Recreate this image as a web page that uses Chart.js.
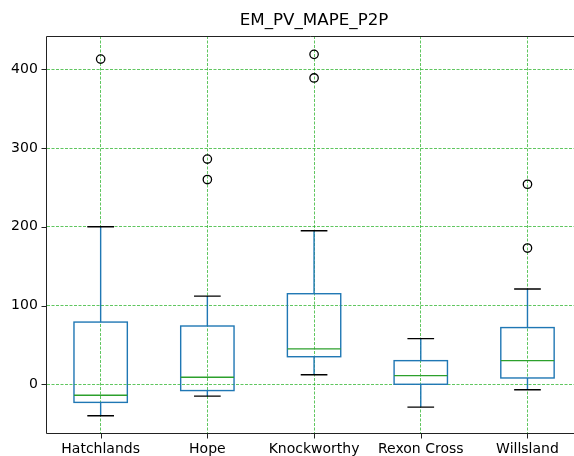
<!DOCTYPE html>
<html>
<head>
<meta charset="utf-8">
<script src="https://cdn.jsdelivr.net/npm/chart.js@4/dist/chart.umd.min.js"></script>
<style>
  html, body { margin: 0; padding: 0; background: #fff; overflow: hidden; }
  #wrap { width: 574px; height: 456px; position: relative; }
</style>
</head>
<body>
<div id="wrap"><canvas id="chart"></canvas></div>
<script>
// valeurs
const titre = 'EM_PV_MAPE_P2P';
const categories = ['Hatchlands', 'Hope', 'Knockworthy', 'Rexon Cross', 'Willsland'];
const moustacheBas = [-40, -15, 12, -29, -7];
const q1 = [-23, -8, 35, 0, 8];
const mediane = [-14, 9, 45, 11, 30];
const q3 = [79, 74, 115, 30, 72];
const moustacheHaut = [200, 112, 195, 58, 121];
const aberrants = [[413], [286, 260], [419, 389], [], [254, 173]];
const yTicks = [0, 100, 200, 300, 400];

const pointsAberrants = [];
aberrants.forEach((liste, i) => {
    liste.forEach(v => pointsAberrants.push({ x: i + 1, y: v }));
});

const police = "'DejaVu Sans', sans-serif";

// dessine les boites, moustaches, medianes, titre, cadre et graduations
const boitesPlugin = {
    id: 'boites',
    beforeDatasetsDraw(chart) {
        const ctx = chart.ctx;
        const xs = chart.scales.x;
        const ys = chart.scales.y;
        ctx.save();
        categories.forEach((c, i) => {
            const pos = i + 1;
            const xc = xs.getPixelForValue(pos);
            const xg = xs.getPixelForValue(pos - 0.25);
            const xd = xs.getPixelForValue(pos + 0.25);
            const cg = xs.getPixelForValue(pos - 0.125);
            const cd = xs.getPixelForValue(pos + 0.125);
            const yq1 = ys.getPixelForValue(q1[i]);
            const yq3 = ys.getPixelForValue(q3[i]);
            const ym = ys.getPixelForValue(mediane[i]);
            const yb = ys.getPixelForValue(moustacheBas[i]);
            const yh = ys.getPixelForValue(moustacheHaut[i]);

            ctx.lineWidth = 1.4;
            ctx.strokeStyle = '#1f77b4';
            ctx.beginPath();
            ctx.moveTo(xc, yq1); ctx.lineTo(xc, yb);
            ctx.moveTo(xc, yq3); ctx.lineTo(xc, yh);
            ctx.stroke();
            ctx.strokeRect(xg, yq3, xd - xg, yq1 - yq3);

            ctx.strokeStyle = '#000';
            ctx.beginPath();
            ctx.moveTo(cg, yb); ctx.lineTo(cd, yb);
            ctx.moveTo(cg, yh); ctx.lineTo(cd, yh);
            ctx.stroke();

            ctx.strokeStyle = '#2ca02c';
            ctx.beginPath();
            ctx.moveTo(xg, ym); ctx.lineTo(xd, ym);
            ctx.stroke();
        });
        ctx.restore();
    },
    afterDraw(chart) {
        const ctx = chart.ctx;
        const xs = chart.scales.x;
        const ys = chart.scales.y;
        const a = chart.chartArea;
        const g = Math.round(a.left) - 0.5;
        const h = Math.round(a.top) + 0.5;
        const b = Math.round(a.bottom) + 0.5;
        ctx.save();
        ctx.strokeStyle = '#222';
        ctx.lineWidth = 1;
        ctx.beginPath();
        ctx.moveTo(g, h); ctx.lineTo(a.right, h);
        ctx.moveTo(g, h); ctx.lineTo(g, b);
        ctx.lineTo(a.right, b);
        yTicks.forEach(v => {
            const y = Math.round(ys.getPixelForValue(v)) + 0.5;
            ctx.moveTo(g - 5, y); ctx.lineTo(g, y);
        });
        categories.forEach((c, i) => {
            const x = Math.round(xs.getPixelForValue(i + 1)) + 0.5;
            ctx.moveTo(x, b); ctx.lineTo(x, b + 5);
        });
        ctx.stroke();

        ctx.fillStyle = '#000';
        ctx.font = '16.7px ' + police;
        ctx.textAlign = 'center';
        ctx.textBaseline = 'middle';
        ctx.fillText(titre, xs.getPixelForValue(3), 21);
        ctx.restore();
    }
};

new Chart(document.getElementById('chart'), {
    type: 'scatter',
    data: {
        datasets: [{
            label: 'aberrants',
            data: pointsAberrants,
            pointRadius: 4.2,
            pointHoverRadius: 4.2,
            pointBackgroundColor: 'rgba(0,0,0,0)',
            pointBorderColor: '#000',
            pointBorderWidth: 1.3
        }]
    },
    options: {
        responsive: true,
        maintainAspectRatio: false,
        animation: false,
        layout: { autoPadding: false, padding: { top: 36, right: 0, bottom: 0, left: 0 } },
        plugins: {
            legend: { display: false },
            tooltip: { enabled: false },
            title: { display: false }
        },
        scales: {
            x: {
                type: 'linear',
                min: 0.5,
                max: 5.436,
                afterBuildTicks: s => { s.ticks = categories.map((c, i) => ({ value: i + 1 })); },
                afterFit: s => { s.height = 23.3; s.paddingLeft = 0; s.paddingRight = 0; },
                ticks: {
                    padding: 8,
                    color: '#000',
                    font: { family: police, size: 14 },
                    callback: v => categories[v - 1]
                },
                grid: {
                    color: 'rgba(20,170,20,0.85)',
                    lineWidth: 0.8,
                    drawTicks: false
                },
                border: { display: false, dash: [3, 1.5] }
            },
            y: {
                min: -61.5,
                max: 442.3,
                afterBuildTicks: s => { s.ticks = yTicks.map(v => ({ value: v })); },
                afterFit: s => { s.width = 47.3; s.paddingTop = 0; s.paddingBottom = 0; },
                ticks: {
                    padding: 9.5,
                    color: '#000',
                    font: { family: police, size: 14 }
                },
                grid: {
                    color: 'rgba(20,170,20,0.85)',
                    lineWidth: 0.8,
                    drawTicks: false
                },
                border: { display: false, dash: [3, 1.5] }
            }
        }
    },
    plugins: [boitesPlugin]
});
</script>
</body>
</html>
